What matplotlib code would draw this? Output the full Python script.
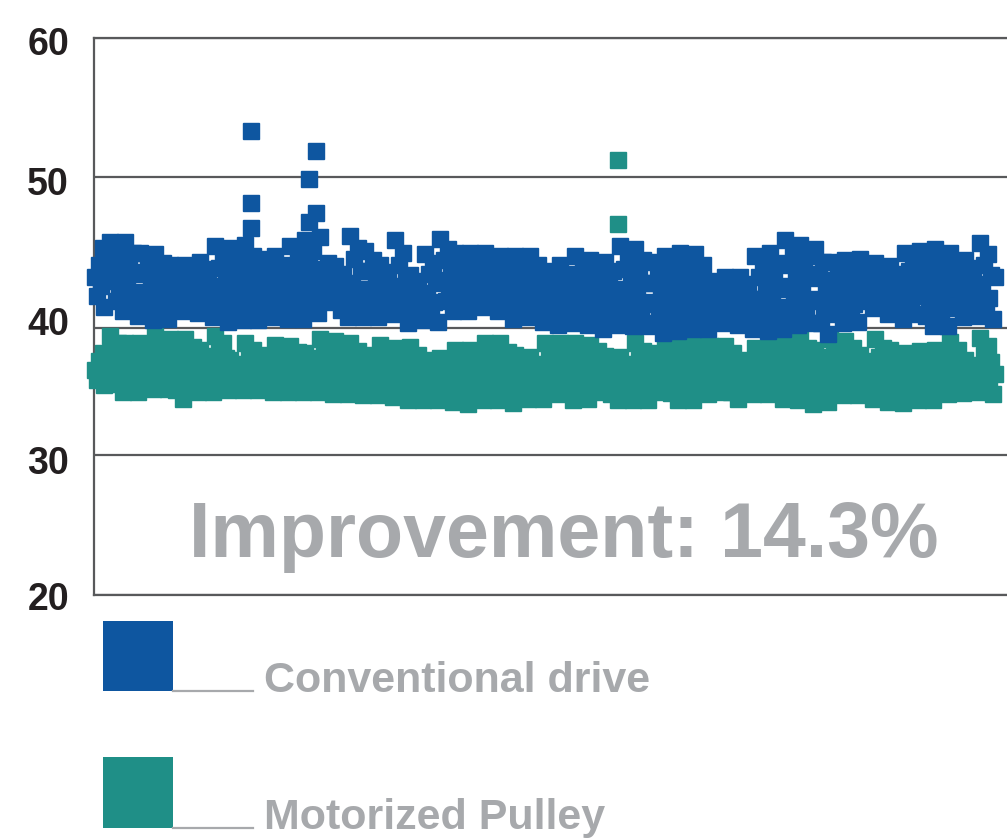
import numpy as np
import matplotlib
matplotlib.use("Agg")
import matplotlib.pyplot as plt
from matplotlib.patches import Rectangle
from matplotlib.lines import Line2D
from matplotlib.transforms import Affine2D

# ---------------- data ----------------
series_names = ["Conventional drive", "Motorized Pulley"]
annotation = "Improvement: 14.3%"

tick_values = [20, 30, 40, 50, 60]
tick_labels = ["20", "30", "40", "50", "60"]

# regular samples (one value per sample)
conventional = [
    43.4, 42.1, 44.2, 42.8, 45.3, 41.4, 43.6, 44.7,
    45.7, 43.1, 44.4, 41.8, 45.0, 42.4, 43.7, 41.1,
    45.7, 42.9, 44.3, 41.5, 45.0, 42.2, 43.6, 40.8,
    45.0, 42.4, 43.7, 41.1, 44.4, 41.8, 43.1, 40.5,
    44.9, 42.4, 43.7, 41.2, 44.3, 41.8, 43.1, 40.6,
    44.2, 42.4, 43.3, 41.5, 43.8, 42.0, 42.9, 41.1,
    44.2, 42.4, 43.3, 41.5, 43.7, 41.9, 42.8, 41.0,
    44.4, 42.3, 43.3, 41.2, 43.9, 41.8, 42.8, 40.7,
    45.4, 42.5, 44.0, 41.1, 44.7, 41.8, 43.3, 40.4,
    45.3, 42.6, 43.9, 41.2, 44.6, 41.9, 43.2, 40.5,
    45.5, 42.6, 44.1, 41.2, 44.8, 41.9, 43.4, 40.5,
    44.6, 42.4, 43.5, 41.3, 44.0, 41.8, 42.9, 40.7,
    44.8, 42.4, 43.6, 41.2, 44.2, 41.8, 43.0, 40.6,
    45.4, 42.7, 44.0, 41.3, 44.7, 42.0, 43.3, 40.6,
    45.8, 43.1, 44.4, 41.7, 45.1, 42.4, 43.7, 41.0,
    46.0, 43.0, 43.9, 42.1, 44.3, 42.6, 43.5, 41.7,
    44.1, 42.2, 43.1, 41.2, 43.6, 41.7, 42.6, 40.7,
    46.1, 43.0, 44.6, 41.5, 45.3, 42.2, 43.8, 40.7,
    45.1, 42.6, 43.8, 41.3, 44.5, 42.0, 43.2, 40.7,
    44.2, 42.3, 43.3, 41.4, 43.7, 41.8, 42.8, 40.9,
    45.8, 42.7, 44.2, 41.1, 45.0, 41.9, 43.4, 40.3,
    43.5, 41.8, 42.6, 40.9, 43.1, 41.4, 42.2, 40.5,
    44.9, 42.3, 43.6, 41.0, 44.3, 41.7, 43.0, 40.4,
    45.9, 43.2, 44.5, 41.8, 45.2, 42.5, 43.8, 41.1,
    45.0, 42.8, 43.9, 41.7, 44.4, 42.2, 43.3, 41.1,
    45.0, 42.9, 44.0, 41.9, 44.5, 42.4, 43.5, 41.4,
    45.0, 42.8, 43.9, 41.7, 44.4, 42.2, 43.3, 41.1,
    44.8, 42.4, 43.6, 41.2, 44.2, 41.8, 43.0, 40.6,
    44.8, 42.5, 43.6, 41.3, 44.2, 41.9, 43.0, 40.7,
    44.8, 42.3, 43.5, 41.0, 44.2, 41.7, 42.9, 40.4,
    43.8, 41.7, 42.8, 40.7, 43.3, 41.2, 42.3, 40.2,
    44.2, 42.0, 43.1, 40.9, 43.6, 41.4, 42.5, 40.3,
    44.8, 42.2, 43.5, 40.9, 44.1, 41.5, 42.8, 40.2,
    44.5, 41.9, 43.2, 40.6, 43.8, 41.2, 42.5, 39.9,
    44.4, 42.0, 43.2, 40.8, 43.8, 41.4, 42.6, 40.2,
    45.4, 42.4, 43.9, 40.9, 44.6, 41.6, 43.1, 40.1,
    45.2, 42.3, 43.7, 40.8, 44.5, 41.6, 43.0, 40.1,
    44.4, 41.7, 43.0, 40.3, 43.7, 41.0, 42.3, 39.6,
    44.8, 41.9, 43.4, 40.5, 44.1, 41.2, 42.7, 39.8,
    45.0, 42.1, 43.5, 40.6, 44.3, 41.4, 42.8, 39.9,
    44.9, 42.0, 43.5, 40.6, 44.2, 41.3, 42.8, 39.9,
    43.1, 41.5, 42.3, 40.7, 42.7, 41.1, 41.9, 40.3,
    43.4, 41.6, 42.5, 40.7, 42.9, 41.1, 42.0, 40.2,
    43.4, 41.4, 42.4, 40.4, 42.9, 40.9, 41.9, 39.9,
    44.8, 41.9, 43.4, 40.5, 44.1, 41.2, 42.7, 39.8,
    45.0, 42.1, 43.5, 40.6, 44.3, 41.4, 42.8, 39.9,
    45.8, 42.6, 44.2, 41.0, 45.0, 41.8, 43.4, 40.2,
    45.5, 42.5, 44.0, 41.0, 44.8, 41.8, 43.3, 40.3,
    45.2, 41.9, 43.6, 40.3, 44.4, 41.1, 42.8, 39.5,
    44.4, 42.1, 43.2, 40.9, 43.8, 41.5, 42.6, 40.3,
    44.5, 42.2, 43.3, 41.0, 43.9, 41.6, 42.7, 40.4,
    44.6, 42.7, 43.7, 41.8, 44.1, 42.2, 43.2, 41.3,
    44.3, 42.4, 43.3, 41.4, 43.8, 41.9, 42.8, 40.9,
    44.1, 42.1, 43.1, 41.1, 43.6, 41.6, 42.6, 40.6,
    45.0, 42.7, 43.8, 41.5, 44.4, 42.1, 43.2, 40.9,
    45.1, 42.2, 43.7, 40.8, 44.4, 41.5, 43.0, 40.1,
    45.2, 42.3, 43.7, 40.8, 44.5, 41.6, 43.0, 40.1,
    45.0, 42.5, 43.8, 41.3, 44.4, 41.9, 43.2, 40.7,
    44.5, 42.4, 43.4, 41.3, 44.0, 41.9, 42.9, 40.8,
    45.6, 42.7, 44.2, 41.3, 44.9, 42.0, 43.5, 40.6,
    43.4,
]

motorized = [
    36.7, 35.9, 37.4, 36.3, 38.0, 35.5, 37.0, 37.7,
    39.4, 36.9, 38.1, 35.6, 38.8, 36.3, 37.5, 35.0,
    38.8, 36.6, 37.7, 35.5, 38.3, 36.1, 37.2, 35.0,
    38.8, 36.7, 37.8, 35.7, 38.3, 36.2, 37.3, 35.2,
    39.4, 37.0, 38.2, 35.8, 38.8, 36.4, 37.6, 35.2,
    39.1, 36.4, 37.8, 35.1, 38.4, 35.7, 37.1, 34.4,
    39.1, 36.8, 37.9, 35.6, 38.5, 36.2, 37.3, 35.0,
    38.3, 36.4, 37.4, 35.5, 37.8, 35.9, 36.9, 35.0,
    39.4, 36.9, 38.2, 35.7, 38.8, 36.3, 37.6, 35.1,
    37.5, 36.1, 36.8, 35.4, 37.2, 35.8, 36.5, 35.1,
    38.8, 36.7, 37.7, 35.6, 38.3, 36.2, 37.2, 35.1,
    37.9, 36.2, 37.1, 35.4, 37.5, 35.8, 36.7, 35.0,
    38.7, 36.6, 37.6, 35.5, 38.2, 36.1, 37.1, 35.0,
    38.6, 36.5, 37.6, 35.5, 38.1, 36.0, 37.1, 35.0,
    38.0, 36.3, 37.1, 35.4, 37.6, 35.9, 36.7, 35.0,
    39.1, 36.6, 37.9, 35.4, 38.5, 36.0, 37.3, 34.8,
    39.0, 36.6, 37.8, 35.4, 38.4, 36.0, 37.2, 34.8,
    38.8, 36.5, 37.6, 35.3, 38.2, 35.9, 37.0, 34.7,
    37.9, 36.1, 37.0, 35.2, 37.4, 35.6, 36.5, 34.7,
    38.7, 36.4, 37.5, 35.2, 38.1, 35.8, 36.9, 34.6,
    38.4, 36.1, 37.2, 34.9, 37.8, 35.5, 36.6, 34.3,
    38.5, 36.1, 37.3, 34.9, 37.9, 35.5, 36.7, 34.3,
    37.5, 35.7, 36.6, 34.8, 37.0, 35.2, 36.1, 34.3,
    37.6, 35.7, 36.6, 34.7, 37.1, 35.2, 36.1, 34.2,
    38.3, 35.8, 37.1, 34.6, 37.7, 35.2, 36.5, 34.0,
    38.3, 36.0, 37.2, 34.9, 37.7, 35.4, 36.6, 34.3,
    38.8, 36.2, 37.5, 34.9, 38.2, 35.6, 36.9, 34.3,
    38.8, 36.1, 37.5, 34.8, 38.1, 35.4, 36.8, 34.1,
    37.9, 35.9, 36.9, 34.9, 37.4, 35.4, 36.4, 34.4,
    37.7, 35.8, 36.8, 34.9, 37.2, 35.3, 36.3, 34.4,
    38.8, 36.5, 37.7, 35.4, 38.2, 35.9, 37.1, 34.8,
    38.8, 36.2, 37.5, 34.9, 38.2, 35.6, 36.9, 34.3,
    38.8, 36.3, 37.5, 35.0, 38.2, 35.7, 36.9, 34.4,
    38.7, 36.6, 37.6, 35.5, 38.2, 36.1, 37.1, 35.0,
    37.8, 35.8, 36.8, 34.8, 37.3, 35.3, 36.3, 34.3,
    37.7, 35.8, 36.7, 34.8, 37.2, 35.3, 36.2, 34.3,
    38.8, 36.2, 37.5, 34.9, 38.2, 35.6, 36.9, 34.3,
    38.0, 36.3, 37.1, 35.4, 37.6, 35.9, 36.7, 35.0,
    38.7, 36.2, 37.4, 34.9, 38.1, 35.6, 36.8, 34.3,
    38.6, 36.1, 37.4, 34.9, 38.0, 35.5, 36.8, 34.3,
    38.7, 36.5, 37.6, 35.4, 38.1, 35.9, 37.0, 34.8,
    38.6, 36.5, 37.6, 35.5, 38.1, 36.0, 37.1, 35.0,
    38.6, 36.2, 37.4, 35.0, 38.0, 35.6, 36.8, 34.4,
    37.5, 36.0, 36.7, 35.2, 37.1, 35.6, 36.3, 34.8,
    38.4, 36.3, 37.4, 35.3, 37.9, 35.8, 36.9, 34.8,
    38.5, 36.2, 37.3, 35.0, 37.9, 35.6, 36.7, 34.4,
    39.0, 36.3, 37.7, 35.0, 38.3, 35.6, 37.0, 34.3,
    39.1, 36.2, 37.6, 34.7, 38.4, 35.5, 36.9, 34.0,
    38.3, 36.0, 37.1, 34.8, 37.7, 35.4, 36.5, 34.2,
    39.1, 36.6, 37.8, 35.3, 38.5, 36.0, 37.2, 34.7,
    39.0, 36.5, 37.8, 35.3, 38.4, 35.9, 37.2, 34.7,
    37.9, 35.9, 36.9, 34.9, 37.4, 35.4, 36.4, 34.4,
    39.1, 36.3, 37.7, 34.9, 38.4, 35.6, 37.0, 34.2,
    38.3, 35.9, 37.1, 34.7, 37.7, 35.3, 36.5, 34.1,
    38.0, 35.9, 36.9, 34.8, 37.5, 35.4, 36.4, 34.3,
    38.2, 36.0, 37.1, 34.9, 37.6, 35.4, 36.5, 34.3,
    38.3, 36.3, 37.3, 35.3, 37.8, 35.8, 36.8, 34.8,
    38.9, 36.6, 37.8, 35.5, 38.3, 36.0, 37.2, 34.9,
    37.5, 36.1, 36.8, 35.4, 37.1, 35.7, 36.4, 35.0,
    39.2, 36.7, 37.9, 35.4, 38.6, 36.1, 37.3, 34.8,
    36.4,
]

# additional readings sharing a sample position with the regular ones
conventional_extra_idx = [83, 83, 83, 114, 114, 118, 118]
conventional_extra = [53.3, 48.3, 46.6, 49.9, 47.0, 51.9, 47.6]
motorized_extra_idx = [279, 279, 311, 358, 375]
motorized_extra = [51.2, 46.9, 40.7, 40.4, 40.0]

colors = ["#0e56a0", "#1f8f87"]

# ---------------- style ----------------
plt.rcParams["font.family"] = ["Liberation Sans", "DejaVu Sans"]
axis_col = "#58595b"
label_col = "#231f20"
grey_txt = "#a7a9ac"

W, H = 1007, 840
fig = plt.figure(figsize=(W / 100, H / 100), dpi=100)

ax_left, ax_right, ax_top, ax_bot = 94, 1017, 38, 595
ax = fig.add_axes([ax_left / W, (H - ax_bot) / H,
                   (ax_right - ax_left) / W, (ax_bot - ax_top) / H])

# value axis as drawn in the reference (grid lines unevenly spaced)
scale_vals = [0, 20, 30, 40, 50, 60, 80]
scale_pos = [-280, 0, 140, 267, 418, 557, 835]


def fwd(v):
    return np.interp(v, scale_vals, scale_pos)


def inv(p):
    return np.interp(p, scale_pos, scale_vals)


ax.set_yscale("function", functions=(fwd, inv))

style = dict(linestyle="none", marker="s", markersize=11.5,
             markeredgewidth=1.0, clip_on=False, antialiased=False)
ax.plot(np.arange(len(motorized)), motorized, color=colors[1],
        markeredgecolor=colors[1], zorder=3, **style)
ax.plot(motorized_extra_idx, motorized_extra, color=colors[1],
        markeredgecolor=colors[1], zorder=3, **style)
ax.plot(np.arange(len(conventional)), conventional, color=colors[0],
        markeredgecolor=colors[0], zorder=4, **style)
ax.plot(conventional_extra_idx, conventional_extra, color=colors[0],
        markeredgecolor=colors[0], zorder=4, **style)

step = 1.875  # pixels per sample
ax.set_xlim((ax_left - 95) / step, (ax_right - 95) / step)
ax.set_ylim(20, 60)

ax.set_yticks(tick_values)
ax.set_yticklabels(tick_labels)
ax.set_yticks([40], minor=True)
ax.tick_params(axis="y", which="major", length=0, pad=18,
               labelsize=27, labelcolor=label_col)
ax.tick_params(axis="y", which="minor", length=5, width=1.6,
               color=axis_col, labelleft=False)
ax.set_xticks([])

# small vertical nudges of the labels, as placed in the reference
label_dy = {20: -1, 30: -5, 40: 7, 50: -4, 60: -3}
for tick, val in zip(ax.yaxis.get_major_ticks(), tick_values):
    tick.label1.set_fontweight("bold")
    tick.label1.set_transform(tick.label1.get_transform()
                              + Affine2D().translate(0, label_dy[val]))

ax.yaxis.grid(True, which="major", color=axis_col, linewidth=1.6)
ax.set_axisbelow(True)
for side in ["left", "top", "bottom"]:
    ax.spines[side].set_color(axis_col)
    ax.spines[side].set_linewidth(1.6)
ax.spines["right"].set_visible(False)

# annotation
fig.text(564 / W, (H - 557) / H, annotation, ha="center", va="baseline",
         fontsize=55.5, fontweight="bold", color=grey_txt)

# legend (drawn manually like the reference)
legend_rows = [(621, 691), (757, 828)]
for (top, bot), name, col in zip(legend_rows, series_names, colors):
    fig.add_artist(Rectangle((103 / W, (H - bot) / H), 70 / W, (bot - top) / H,
                             transform=fig.transFigure, color=col, lw=0))
    fig.add_artist(Line2D([173 / W, 253 / W], [(H - bot) / H, (H - bot) / H],
                          transform=fig.transFigure, color=grey_txt, lw=1.6))
    fig.text(264 / W, (H - bot - 1) / H, name, ha="left", va="baseline",
             fontsize=31, fontweight="bold", color=grey_txt)

fig.savefig("out.png", dpi=100)
